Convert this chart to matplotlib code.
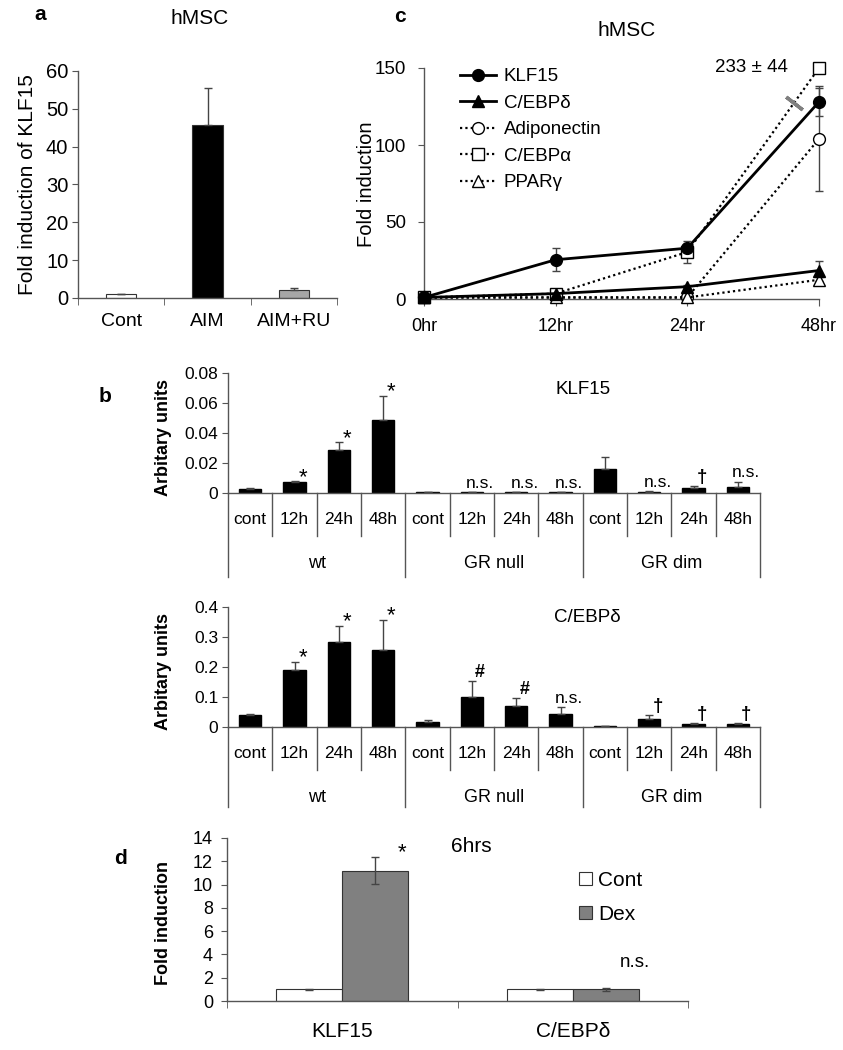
import numpy as np
import matplotlib
matplotlib.use('Agg')
import matplotlib.pyplot as plt

plt.rcParams['font.family'] = ['Liberation Sans', 'DejaVu Sans']

# panel a
a_labels = ['Cont', 'AIM', 'AIM+RU']
a_vals = [1.0, 45.8, 2.0]
a_err = [0.1, 9.7, 0.6]
a_colors = ['white', 'black', '#a6a6a6']

# panel c (time course)
c_times = ['0hr', '12hr', '24hr', '48hr']
c_klf15 = [1, 25.5, 33, 128]
c_klf15_err = [0, 7.5, 1.5, 9]
c_cebpd = [1, 3.5, 8, 18.5]
c_cebpd_err = [0, 1, 1, 6.5]
c_adipo = [1, 1, 1, 104]
c_adipo_err = [0, 0.5, 0.5, 34]
c_cebpa = [1, 3.5, 30.5, 233]
c_cebpa_err = [0, 1, 7, 44]
c_ppar = [1, 1, 1, 12.5]
c_ppar_err = [0, 0.5, 0.5, 2]

# panel b
b_cats = ['cont', '12h', '24h', '48h'] * 3
b_groups = ['wt', 'GR null', 'GR dim']
b_klf15 = [0.0027, 0.0071, 0.0289, 0.0489, 0.0004, 0.0004, 0.0004, 0.0004,
           0.0162, 0.0009, 0.0031, 0.0040]
b_klf15_err = [0.0006, 0.0007, 0.0049, 0.0160, 0.0001, 0.0001, 0.0001, 0.0001,
               0.0076, 0.0004, 0.0013, 0.0036]
b_klf15_sig = ['', '*', '*', '*', '', 'n.s.', 'n.s.', 'n.s.', '', 'n.s.', '†', 'n.s.']
b_cebpd = [0.039, 0.189, 0.284, 0.257, 0.017, 0.101, 0.069, 0.044,
           0.004, 0.027, 0.010, 0.010]
b_cebpd_err = [0.005, 0.027, 0.052, 0.099, 0.006, 0.053, 0.028, 0.023,
               0.001, 0.013, 0.002, 0.002]
b_cebpd_sig = ['', '*', '*', '*', '', '#', '#', 'n.s.', '', '†', '†', '†']

# panel d
d_genes = ['KLF15', 'C/EBPδ']
d_cont = [1.0, 1.0]
d_cont_err = [0.05, 0.05]
d_dex = [11.2, 1.0]
d_dex_err = [1.15, 0.12]
d_sig = ['*', 'n.s.']

W, H = 843, 1050
AX = '#555555'
fig = plt.figure(figsize=(W / 100, H / 100), dpi=100)
fig.patch.set_facecolor('white')


def px_axes(left, top, right, bottom):
    return fig.add_axes([left / W, 1 - bottom / H, (right - left) / W, (bottom - top) / H])


def ftext(x, y, s, **kw):
    fig.text(x / W, 1 - y / H, s, ha=kw.pop('ha', 'center'), va=kw.pop('va', 'center'), **kw)


def style(ax):
    ax.set_facecolor('none')
    for s in ['top', 'right']:
        ax.spines[s].set_visible(False)
    for s in ['left', 'bottom']:
        ax.spines[s].set_color(AX)
        ax.spines[s].set_linewidth(1)
    ax.tick_params(which='both', colors=AX, labelcolor='black', direction='out')


# size/weight of significance marks
SIG_FONT = {'*': dict(fontsize=16), '†': dict(fontsize=13.5, fontweight='bold'),
            '#': dict(fontsize=13, fontweight='bold'), 'n.s.': dict(fontsize=12.5)}

ekw = dict(ecolor='#444444', elinewidth=1, capsize=3, capthick=1)

# ---- a ----
ax = px_axes(78, 71, 337, 298)
style(ax)
x = np.arange(len(a_labels))
ax.bar(x, a_vals, 0.35, color=a_colors, edgecolor='#333333', lw=0.8,
       yerr=[np.zeros(len(a_vals)), a_err], error_kw=ekw)
ax.set_xlim(-0.5, 2.5)
ax.set_ylim(0, 60)
ax.set_yticks(range(0, 61, 10))
ax.tick_params(axis='y', labelsize=14.5, length=4, pad=3)
ax.set_xticks(x)
ax.set_xticklabels(a_labels, fontsize=14)
ax.tick_params(axis='x', which='major', length=0, pad=11)
ax.set_xticks(np.arange(-0.5, 3, 1), minor=True)
ax.tick_params(axis='x', which='minor', length=5)
ftext(28, 185, 'Fold induction of KLF15', rotation=90, fontsize=15)
ftext(200, 18, 'hMSC', fontsize=15)
ftext(40, 15, 'a', fontsize=15, fontweight='bold')

# ---- c ----
ax = px_axes(424, 68, 819, 299)
style(ax)
t = np.arange(len(c_times))
ymax = 150
series = [
    (c_klf15, c_klf15_err, 'KLF15', 'o', 'black', '-'),
    (c_cebpd, c_cebpd_err, 'C/EBPδ', '^', 'black', '-'),
    (c_adipo, c_adipo_err, 'Adiponectin', 'o', 'white', (0, (1, 1.4))),
    (c_cebpa, c_cebpa_err, 'C/EBPα', 's', 'white', (0, (1, 1.4))),
    (c_ppar, c_ppar_err, 'PPARγ', '^', 'white', (0, (1, 1.4))),
]
for vals, err, lab, mk, fc, ls in series:
    v = np.minimum(vals, ymax)
    e = np.where(np.array(vals) > ymax, 0, err)
    solid = ls == '-'
    ax.errorbar(t, v, yerr=e, fmt='none', ecolor='#444444', elinewidth=1,
                capsize=3, capthick=1, zorder=2, clip_on=False)
    ax.plot(t, v, ls=ls, lw=2.0 if solid else 1.6, color='black', marker=mk,
            ms=8.5, mfc=fc, mec='black', mew=1, label=lab,
            zorder=4 if solid else 3, clip_on=False)
# break mark on the clipped C/EBPα segment
cpa = np.minimum(c_cebpa, ymax)
f = 0.81
ax.plot([t[2] + f], [cpa[2] + f * (cpa[3] - cpa[2])], marker=(2, 2, 52), ms=15,
        mew=2.5, mec='#808080', ls='none', zorder=5)
ax.text(t[3] - 0.24, ymax, '233 ± 44', ha='right', va='center', fontsize=13.5)
ax.set_xlim(0, 3)
ax.set_ylim(0, ymax)
ax.set_yticks([0, 50, 100, 150])
ax.tick_params(axis='y', labelsize=13.5, length=4, pad=9)
ax.set_xticks(t)
ax.set_xticklabels(c_times, fontsize=13)
ax.tick_params(axis='x', length=5, pad=9)
ax.legend(loc='upper left', bbox_to_anchor=(0.09, 1.0), frameon=False, fontsize=13.5,
          handlelength=1.95, handletextpad=0.4, labelspacing=0.5, borderpad=0,
          borderaxespad=0, numpoints=1)
ftext(367, 184, 'Fold induction', rotation=90, fontsize=14.5)
ftext(627, 30, 'hMSC', fontsize=15)
ftext(400, 17, 'c', fontsize=15, fontweight='bold')


# ---- b ----
def panel_b(top, bottom, vals, errs, sig, ylim, step, sep_depth):
    ax = px_axes(228, top, 760, bottom)
    style(ax)
    n = len(vals)
    x = np.arange(n)
    ax.bar(x, vals, 0.5, color='black', edgecolor='black',
           yerr=[np.zeros(n), errs], error_kw=ekw)
    ax.set_xlim(-0.5, n - 0.5)
    ax.set_ylim(0, ylim)
    ax.set_yticks(np.arange(0, ylim + step / 2, step))
    ax.yaxis.set_major_formatter(lambda v, p: '0' if v == 0 else f'{v:g}')
    ax.tick_params(axis='y', labelsize=12.5, length=4, pad=3)
    ax.set_xticks([])
    tr = ax.get_xaxis_transform()
    for i, lab in enumerate(b_cats):
        ax.text(i, -0.225, lab, transform=tr, ha='center', va='center', fontsize=12.5)
    for b in np.arange(-0.5, n, 1):
        long = (b + 0.5) % 4 == 0
        ax.plot([b, b], [0, -sep_depth if long else -0.355], transform=tr,
                color=AX, lw=1, clip_on=False)
    for g, name in enumerate(b_groups):
        ax.text(4 * g + 1.5, -0.585, name, transform=tr, ha='center', va='center',
                fontsize=13)
    for i, s in enumerate(sig):
        if s:
            dy = -1 if s == '*' else 3
            ax.annotate(s, (i, vals[i] + errs[i]), xytext=(6, dy), textcoords='offset points',
                        ha='center', va='baseline', **SIG_FONT[s])
    return ax


panel_b(373, 493, b_klf15, b_klf15_err, b_klf15_sig, 0.08, 0.02, 0.70)
ftext(583, 390, 'KLF15', fontsize=13.5)
ftext(163, 437, 'Arbitary units', rotation=90, fontsize=13, fontweight='bold')
ftext(105, 397, 'b', fontsize=15, fontweight='bold')

panel_b(607, 727, b_cebpd, b_cebpd_err, b_cebpd_sig, 0.4, 0.1, 0.67)
ftext(587, 618, 'C/EBPδ', fontsize=13.5)
ftext(163, 672, 'Arbitary units', rotation=90, fontsize=13, fontweight='bold')

# ---- d ----
ax = px_axes(227, 838, 688, 1001)
style(ax)
x = np.arange(len(d_genes))
bw = 0.287
ax.bar(x - bw / 2, d_cont, bw, color='white', edgecolor='#333333', lw=0.8, label='Cont',
       yerr=d_cont_err, error_kw=ekw)
ax.bar(x + bw / 2, d_dex, bw, color='#808080', edgecolor='#333333', lw=0.8, label='Dex',
       yerr=d_dex_err, error_kw=ekw)
ax.annotate(d_sig[0], (x[0] + bw / 2, d_dex[0] + d_dex_err[0]), xytext=(19, -1),
            textcoords='offset points', ha='center', va='baseline', fontsize=16)
ax.annotate(d_sig[1], (x[1] + bw / 2, d_dex[1] + d_dex_err[1]), xytext=(21, 15),
            textcoords='offset points', ha='center', va='baseline', fontsize=13.5)
ax.set_xlim(-0.5, 1.5)
ax.set_ylim(0, 14)
ax.set_yticks(range(0, 15, 2))
ax.tick_params(axis='y', labelsize=13, length=4, pad=6)
ax.set_xticks(x)
ax.set_xticklabels(d_genes, fontsize=15)
ax.tick_params(axis='x', which='major', length=0, pad=15)
ax.set_xticks([-0.5, 0.5, 1.5], minor=True)
ax.tick_params(axis='x', which='minor', length=5)
ax.legend(loc='upper left', bbox_to_anchor=(0.764, 0.80), frameon=False, fontsize=15,
          handlelength=0.6, handleheight=0.6, handletextpad=0.3, labelspacing=0.75,
          borderpad=0, borderaxespad=0)
ftext(163, 923, 'Fold induction', rotation=90, fontsize=13, fontweight='bold')
ftext(471, 847, '6hrs', fontsize=15)
ftext(120, 858, 'd', fontsize=15, fontweight='bold')

fig.savefig('out.png', dpi=100, facecolor='white')
